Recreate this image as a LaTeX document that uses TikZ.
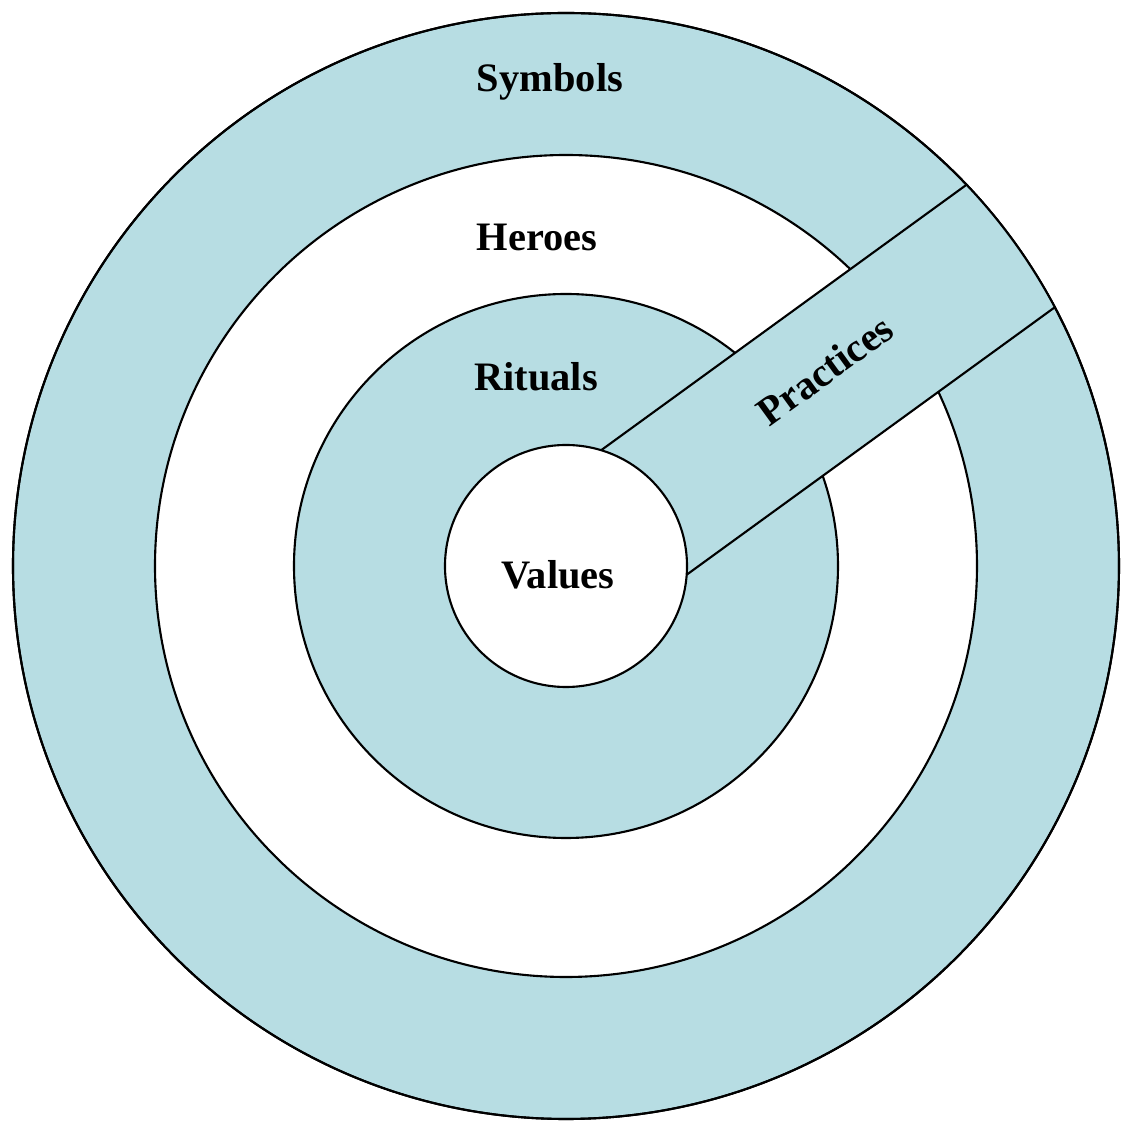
\documentclass[tikz,border=0pt]{standalone}
\usepackage{fontspec}
\setmainfont{Liberation Serif}
\usepackage{xcolor}
\usepackage{tikz}
\definecolor{ringblue}{RGB}{183,221,227}

\begin{document}
\begin{tikzpicture}[x=1cm, y=1cm, line width=0.6pt,
    ringlabel/.style={font=\bfseries\fontsize{11.5}{14}\selectfont, inner sep=0pt}]
    \useasboundingbox (-5.66,-5.57) rectangle (5.65,5.66);
    % symbols ring
    \fill[ringblue, draw=black] (0,0) circle (5.53);
    % heroes ring
    \fill[white, draw=black] (0,0) circle (4.11);
    % rituals ring
    \fill[ringblue, draw=black] (0,0) circle (2.72);
    % practices band
    \begin{scope}[rotate=36]
        \begin{scope}
            \clip (0,0) circle (5.53);
            \fill[ringblue] (0,-0.78) rectangle (6,0.73);
        \end{scope}
        \draw ({sqrt(1.21^2-0.73^2)},0.73) -- ({sqrt(5.53^2-0.73^2)},0.73);
        \draw ({sqrt(1.21^2-0.78^2)},-0.78) -- ({sqrt(5.53^2-0.78^2)},-0.78);
    \end{scope}
    % values core
    \fill[white, draw=black] (0,0) circle (1.21);
    \draw (0,0) circle (5.53);
    % labels
    \node[ringlabel] (symbols) at (-0.16,4.84) {Symbols};
    \node[ringlabel] (heroes) at (-0.29,3.29) {Heroes};
    \node[ringlabel] (rituals) at (-0.30,1.89) {Rituals};
    \node[ringlabel] (values) at (-0.08,-0.09) {Values};
    \node[ringlabel, rotate=36] (practices) at (2.59,1.96) {Practices};
\end{tikzpicture}
\end{document}
